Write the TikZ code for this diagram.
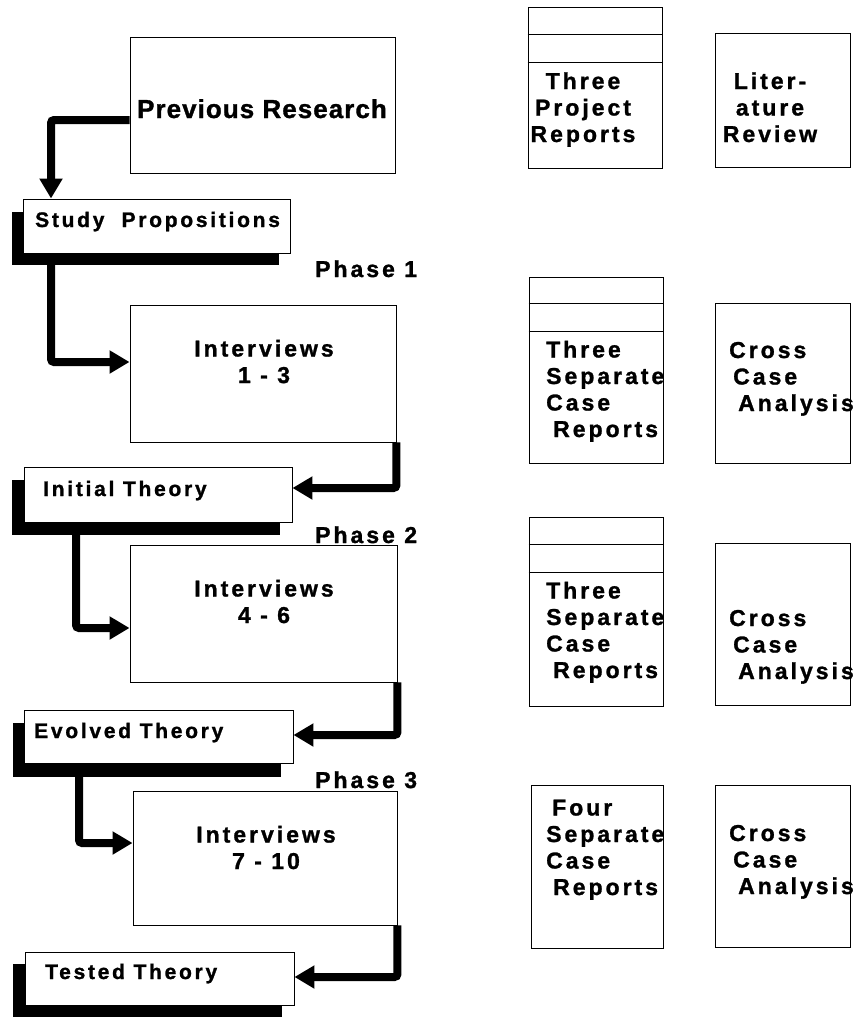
\documentclass[tikz,border=0pt]{standalone}
\usepackage{fontspec}
\setmainfont{Liberation Sans}
\newfontfamily\trackA[LetterSpace=4,FakeBold=1.2]{Liberation Sans Bold}
\newfontfamily\trackB[LetterSpace=13,FakeBold=1.2]{Liberation Sans Bold}
\usetikzlibrary{arrows.meta,fit}
\begin{document}
\begin{tikzpicture}[x=1pt,y=-1pt,
  box/.style={draw=black, line width=0.9pt, fill=white, inner sep=0pt},
  shade/.style={fill=black, draw=none, inner sep=0pt},
  conn/.style={line width=8pt, rounded corners=3pt, -{Triangle[length=20pt,width=22pt]}},
  bigtxt/.style={font=\trackA\fontsize{26}{30}\selectfont, inner sep=0pt},
  midtxt/.style={font=\trackB\fontsize{23}{26.5}\selectfont, inner sep=0pt},
  smalltxt/.style={font=\trackB\fontsize{21}{24}\selectfont, inner sep=0pt}
]
\fill[white] (0,0) rectangle (859,1017);
\useasboundingbox (0,0) rectangle (859,1017);

% ---- left column: research flow ----
\node[box, fit={(130,37) (395,173)}] (PR) {};
\node[bigtxt, anchor=base] (PRt) at (262,118) {Previous Research};

\node[shade, fit={(12,212) (279,265)}] (SPs) {};
\node[box, fit={(23,199) (290,253)}] (SP) {};
\node[smalltxt, anchor=base west] (SPt) at (35,227) {Study\ \ Propositions};

\node[midtxt, anchor=base west] (ph1) at (315,277) {Phase 1};
\node[box, fit={(130,305) (396,442)}] (I1) {};
\node[midtxt, anchor=base, align=center] (I1t) at (264,383) {Interviews\\1 - 3};

\node[shade, fit={(12,480) (280,535)}] (INs) {};
\node[box, fit={(24,467) (292,522)}] (IN) {};
\node[smalltxt, anchor=base west] (INt) at (43,496) {Initial Theory};

\node[midtxt, anchor=base west] (ph2) at (315,543) {Phase 2};
\node[box, fit={(130,545) (397,682)}] (I2) {};
\node[midtxt, anchor=base, align=center] (I2t) at (264,623) {Interviews\\4 - 6};

\node[shade, fit={(13,723) (281,777)}] (EVs) {};
\node[box, fit={(24,710) (293,763)}] (EV) {};
\node[smalltxt, anchor=base west] (EVt) at (34,738) {Evolved Theory};

\node[midtxt, anchor=base west] (ph3) at (315,788) {Phase 3};
\node[box, fit={(133,791) (397,925)}] (I3) {};
\node[midtxt, anchor=base, align=center] (I3t) at (266,869) {Interviews\\7 - 10};

\node[shade, fit={(13,964) (282,1017)}] (TEs) {};
\node[box, fit={(25,952) (294,1005)}] (TE) {};
\node[smalltxt, anchor=base west] (TEt) at (45,979) {Tested Theory};

% connectors
\draw[conn] (PR.west |- 0,120) -| (SP.north -| 51,0);
\draw[conn] (SPs.south -| 51,0) |- (I1.west |- 0,362);
\draw[conn] (I1.south east) |- (IN.east |- 0,488);
\draw[conn] (INs.south -| 76,0) |- (I2.west |- 0,628);
\draw[conn] (I2.south east) |- (EV.east |- 0,735);
\draw[conn] (EVs.south -| 79,0) |- (I3.west |- 0,843);
\draw[conn] (I3.south east) |- (TE.east |- 0,977);

% ---- right column: reports and analyses ----
\node[box, fit={(528,7) (662,168)}] (R1) {};
\draw[line width=0.9pt] (R1.west |- 0,34) -- (R1.east |- 0,34);
\draw[line width=0.9pt] (R1.west |- 0,62) -- (R1.east |- 0,62);
\node[midtxt, anchor=base, align=center] (R1t) at (583,142) {Three\\Project\\Reports};

\node[box, fit={(715,33) (850,167)}] (L1) {};
\node[midtxt, anchor=base, align=center] (L1t) at (770,142) {Liter-\\ature\\Review};

\node[box, fit={(529,277) (663,463)}] (R2) {};
\draw[line width=0.9pt] (R2.west |- 0,303) -- (R2.east |- 0,303);
\draw[line width=0.9pt] (R2.west |- 0,331) -- (R2.east |- 0,331);
\node[midtxt, anchor=base west, align=left] (R2t) at (546,437) {Three\\Separate\\Case\\\hspace*{7pt}Reports};

\node[box, fit={(715,303) (850,463)}] (C2) {};
\node[midtxt, anchor=base west, align=left] (C2t) at (729,411) {Cross\\\hspace*{4pt}Case\\\hspace*{9pt}Analysis};

\node[box, fit={(529,517) (663,706)}] (R3) {};
\draw[line width=0.9pt] (R3.west |- 0,544) -- (R3.east |- 0,544);
\draw[line width=0.9pt] (R3.west |- 0,572) -- (R3.east |- 0,572);
\node[midtxt, anchor=base west, align=left] (R3t) at (546,678) {Three\\Separate\\Case\\\hspace*{7pt}Reports};

\node[box, fit={(715,543) (850,705)}] (C3) {};
\node[midtxt, anchor=base west, align=left] (C3t) at (729,679) {Cross\\\hspace*{4pt}Case\\\hspace*{9pt}Analysis};

\node[box, fit={(531,785) (663,948)}] (R4) {};
\node[midtxt, anchor=base west, align=left] (R4t) at (546,895) {\hspace*{6pt}Four\\Separate\\Case\\\hspace*{7pt}Reports};

\node[box, fit={(715,785) (850,947)}] (C4) {};
\node[midtxt, anchor=base west, align=left] (C4t) at (729,894) {Cross\\\hspace*{4pt}Case\\\hspace*{9pt}Analysis};
\end{tikzpicture}
\end{document}
